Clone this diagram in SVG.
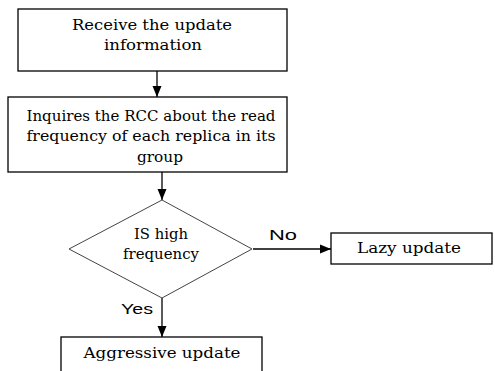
<svg xmlns="http://www.w3.org/2000/svg" width="495" height="371" viewBox="0 0 495 371">
<style>
.box{fill:#fff;stroke:#000;stroke-width:1.3}
.dia{fill:#fff;stroke:#444;stroke-width:1}
.t{font-family:"DejaVu Serif","Liberation Serif",serif;font-size:14px;fill:#000;text-anchor:middle}
.s{font-family:"Liberation Sans",sans-serif;font-size:14px;fill:#000}
.c{stroke:#000;stroke-width:1.3;fill:none;marker-end:url(#ah)}
</style>
<defs>
<marker id="ah" markerWidth="12" markerHeight="12" refX="11" refY="6" orient="auto" markerUnits="userSpaceOnUse">
<path d="M0,1.5 L11,6 L0,10.5 z" fill="#000"/>
</marker>
</defs>
<rect width="495" height="371" fill="#fff"/>
<g id="connectors">
<line class="c" x1="157" y1="71" x2="157" y2="97"/>
<line class="c" x1="162" y1="172" x2="162" y2="200"/>
<line class="c" x1="253" y1="249" x2="331" y2="249"/>
<line class="c" x1="162" y1="298" x2="162" y2="337"/>
<text class="s" x="269" y="240" textLength="28" lengthAdjust="spacingAndGlyphs">No</text>
<text class="s" x="121" y="314" textLength="32" lengthAdjust="spacingAndGlyphs">Yes</text>
</g>
<g id="receive">
<rect class="box" x="18" y="9" width="269" height="62"/>
<text class="t" x="152" y="30" textLength="160" lengthAdjust="spacingAndGlyphs">Receive the update</text>
<text class="t" x="153" y="50" textLength="98" lengthAdjust="spacingAndGlyphs">information</text>
</g>
<g id="inquire">
<rect class="box" x="8" y="97" width="279" height="75"/>
<text class="t" x="151" y="121" textLength="249" lengthAdjust="spacingAndGlyphs">Inquires the RCC  about the read</text>
<text class="t" x="151" y="141" textLength="249" lengthAdjust="spacingAndGlyphs">frequency of each replica in its</text>
<text class="t" x="160" y="162" textLength="46" lengthAdjust="spacingAndGlyphs">group</text>
</g>
<g id="decision">
<polygon class="dia" points="162,200 252,249 162,298 69,249"/>
<text class="t" x="161" y="239" textLength="54" lengthAdjust="spacingAndGlyphs">IS high</text>
<text class="t" x="161" y="259" textLength="76" lengthAdjust="spacingAndGlyphs">frequency</text>
</g>
<g id="lazy">
<rect class="box" x="331" y="233" width="161" height="31"/>
<text class="t" x="409" y="253" textLength="104" lengthAdjust="spacingAndGlyphs">Lazy update</text>
</g>
<g id="aggressive">
<rect class="box" x="61" y="337" width="201" height="40"/>
<text class="t" x="162" y="358" textLength="157" lengthAdjust="spacingAndGlyphs">Aggressive update</text>
</g>
</svg>
